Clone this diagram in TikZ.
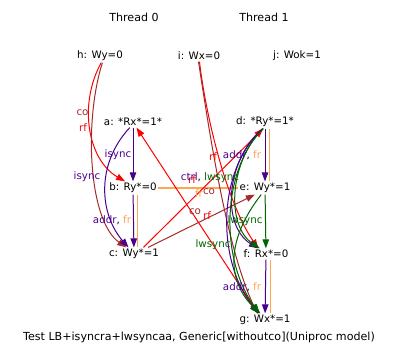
\documentclass[tikz,border=0pt]{standalone}
\usepackage{fontspec}
\setmainfont{DejaVu Sans}
\usepackage{xcolor}
\usetikzlibrary{arrows.meta}
\definecolor{depc}{RGB}{75,0,140}
\definecolor{rfc}{RGB}{255,0,0}
\definecolor{coc}{RGB}{165,42,42}
\definecolor{frc}{RGB}{255,165,80}
\definecolor{syncc}{RGB}{0,100,0}
\tikzset{
  ev/.style   ={inner sep=1.5pt, font=\fontsize{10.3}{12}\selectfont},
  hdr/.style  ={inner sep=1.5pt, font=\fontsize{11.1}{13}\selectfont},
  lbl/.style  ={inner sep=0pt, font=\fontsize{10.3}{12}\selectfont},
  tip/.style  ={-{Triangle[length=9pt,width=6.5pt]}},
  dep/.style  ={draw=depc, line width=1pt, tip},
  rfe/.style  ={draw=rfc, line width=1pt, tip},
  coe/.style  ={draw=coc, line width=1pt, tip},
  sync/.style ={draw=syncc, line width=1pt, tip},
  fre/.style  ={draw=frc, line width=1.6pt},
}
\begin{document}
\begin{tikzpicture}[x=1pt,y=-1pt]
  \useasboundingbox (0,0) rectangle (398,361);
  \node[hdr] (thr0) at (134,17) {Thread 0};
  \node[hdr] (thr1) at (264,17) {Thread 1};
  \foreach \n/\x/\y/\t in {h/100/56/{h: Wy=0}, i/199/56/{i: Wx=0}, j/297/56/{j: Wok=1},
      a/133/122/{a: *Rx*=1*}, b/133/188/{b: Ry*=0}, c/134/254/{c: Wy*=1},
      d/265/122/{d: *Ry*=1*}, e/265/188/{e: Wy*=1}, f/266/254/{f: Rx*=0}, g/265/320/{g: Wx*=1}}
    \node[ev] (\n) at (\x,\y) {\t};
  \node[hdr] (title) at (199,337) {Test LB+isyncra+lwsyncaa, Generic[withoutco](Uniproc model)};

  \draw[rfe] (h.-80) .. controls (78,105) and (88,160) .. (b.140);
  \draw[coe] (h.-70) .. controls (84,120) and (88,220) .. (c.140);
  \draw[dep] (a) -- (b);
  \draw[dep] (a.-120) .. controls (95,165) and (100,215) .. (c.130);
  \draw[fre] ([xshift=4.5pt]b.south) -- ([xshift=4.5pt]b.south |- c.north);
  \draw[dep] (b) -- (c);
  \draw[fre] (b) -- (e);
  \draw[rfe] (c.35) -- (d.-105);
  \draw[coe] (c.25) -- (e.-147);
  \draw[rfe] (g.137) -- (a.-58);
  \draw[rfe] (i.-85) .. controls (205,110) and (225,200) .. (f.144);
  \draw[coe] (i.-95) .. controls (212,150) and (228,250) .. (g.140);

  \draw[fre] ([xshift=4.5pt]d.south) -- ([xshift=4.5pt]d.south |- e.north);
  \draw[dep] (d) -- (e);
  \draw[dep] (d.-110) .. controls (226,160) and (221,225) .. (f.145);
  \draw[sync] (d.-105) .. controls (230,160) and (225,225) .. (f.138);
  \draw[dep] (d.-110) .. controls (217,170) and (216,260) .. (g.135);
  \draw[sync] (d.-105) .. controls (221,170) and (220,260) .. (g.130);
  \draw[sync] (e.-120) .. controls (222,245) and (230,285) .. (g.125);
  \draw[sync] (e) -- (f);
  \draw[fre] ([xshift=4.5pt]f.south) -- ([xshift=4.5pt]f.south |- g.north);
  \draw[dep] (f) -- (g);

  \foreach \n/\x/\y/\c/\t in {lhc/82.5/113/coc/co, lhb/83/128/rfc/rf,
      lab/118/155/depc/isync, lac/87/177/depc/isync, lef/245/221/syncc/lwsync,
      leg/213/245/syncc/lwsync, lbe/199/194/frc/fr, lig/209/192/coc/co,
      lce/195/212/coc/co, lga/207/216/rfc/rf, lcd/192/180/rfc/rf, lif/213/157/rfc/rf}
    \node[lbl, text=\c] (\n) at (\x,\y) {\t};
  \node[lbl] (lbc) at (112,220) {\textcolor{depc}{addr}, \textcolor{frc}{fr}};
  \node[lbl] (lde) at (242,155) {\textcolor{depc}{addr}, \textcolor{frc}{fr}};
  \node[lbl] (lfg) at (242,287) {\textcolor{depc}{addr}, \textcolor{frc}{fr}};
  \node[lbl] (ldf) at (210,178) {\textcolor{depc}{ctrl}, \textcolor{syncc}{lwsync}};
\end{tikzpicture}
\end{document}
